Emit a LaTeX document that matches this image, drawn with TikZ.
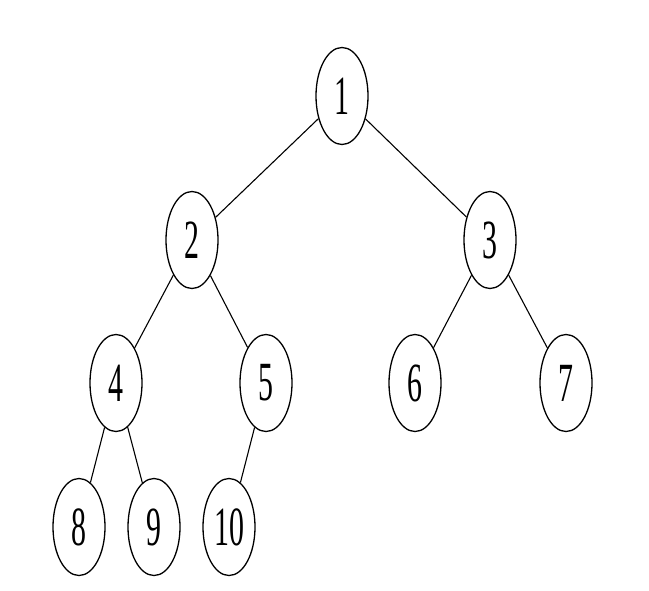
\documentclass[tikz,border=0pt]{standalone}
\usepackage{fontspec}
\setmainfont{Liberation Serif}
\usetikzlibrary{shapes.geometric}
\tikzset{
  vertex/.style={draw, ellipse, line width=1.3bp, minimum width=52bp, minimum height=97bp, inner sep=0pt},
  edge/.style={line width=1.1bp}
}
\newcommand{\lbl}[1]{\scalebox{1}[1.85]{\fontsize{30}{30}\selectfont #1}}
\begin{document}
\begin{tikzpicture}[x=1bp,y=-1bp]
\useasboundingbox (0,0) rectangle (649,591);
% heap as a binary tree
\node[vertex] (n1) at (342,96) {\lbl{1}};
\node[vertex] (n2) at (192,240) {\lbl{2}};
\node[vertex] (n3) at (490,240) {\lbl{3}};
\node[vertex] (n4) at (116,383) {\lbl{4}};
\node[vertex] (n5) at (266,383) {\lbl{5}};
\node[vertex] (n6) at (415,383) {\lbl{6}};
\node[vertex] (n7) at (566,383) {\lbl{7}};
\node[vertex] (n8) at (79,527) {\lbl{8}};
\node[vertex] (n9) at (154,527) {\lbl{9}};
\node[vertex] (n10) at (229,527) {\lbl{10}};
\draw[edge] (n1) -- (n2);
\draw[edge] (n1) -- (n3);
\draw[edge] (n2) -- (n4);
\draw[edge] (n2) -- (n5);
\draw[edge] (n3) -- (n6);
\draw[edge] (n3) -- (n7);
\draw[edge] (n4) -- (n8);
\draw[edge] (n4) -- (n9);
\draw[edge] (n5) -- (n10);
\end{tikzpicture}
\end{document}
